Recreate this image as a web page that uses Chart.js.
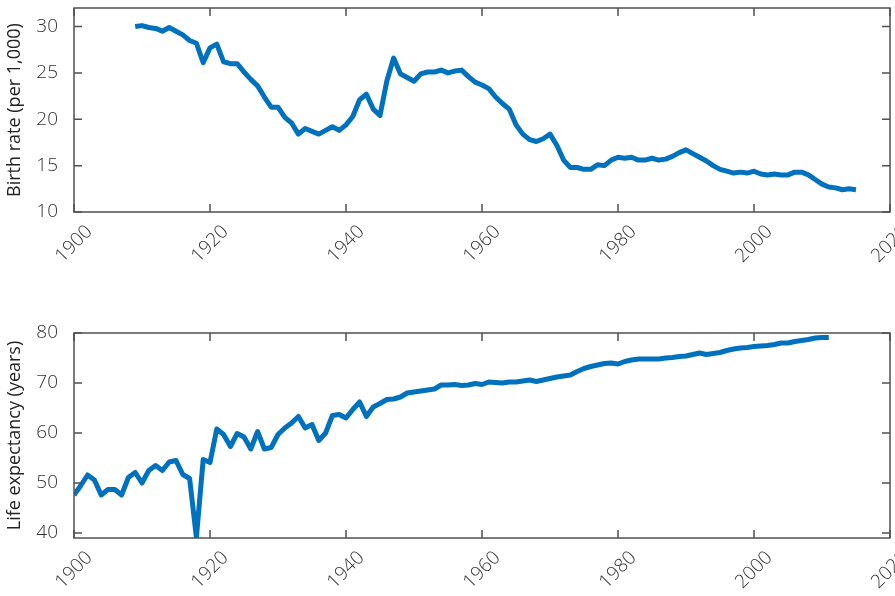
<!DOCTYPE html>
<html>
<head>
<meta charset="utf-8">
<script src="https://cdn.jsdelivr.net/npm/chart.js@4/dist/chart.umd.min.js"></script>
<style>
  body { margin: 0; background: #fff; }
  #wrap { position: relative; width: 895px; height: 596px; overflow: hidden; }
  canvas { position: absolute; left: 0; }
</style>
</head>
<body>
<div id="wrap">
  <canvas id="birthChart" width="895" height="300" style="top:0"></canvas>
  <canvas id="lifeChart" width="895" height="296" style="top:300px"></canvas>
</div>
<script>
/* data */
var birthYears = [
  1909, 1910, 1911, 1912, 1913, 1914, 1915, 1916, 1917, 1918,
  1919, 1920, 1921, 1922, 1923, 1924, 1925, 1926, 1927, 1928,
  1929, 1930, 1931, 1932, 1933, 1934, 1935, 1936, 1937, 1938,
  1939, 1940, 1941, 1942, 1943, 1944, 1945, 1946, 1947, 1948,
  1949, 1950, 1951, 1952, 1953, 1954, 1955, 1956, 1957, 1958,
  1959, 1960, 1961, 1962, 1963, 1964, 1965, 1966, 1967, 1968,
  1969, 1970, 1971, 1972, 1973, 1974, 1975, 1976, 1977, 1978,
  1979, 1980, 1981, 1982, 1983, 1984, 1985, 1986, 1987, 1988,
  1989, 1990, 1991, 1992, 1993, 1994, 1995, 1996, 1997, 1998,
  1999, 2000, 2001, 2002, 2003, 2004, 2005, 2006, 2007, 2008,
  2009, 2010, 2011, 2012, 2013, 2014, 2015
];
var birthRate = [
  30.0, 30.1, 29.9, 29.8, 29.5, 29.9, 29.5, 29.1, 28.5, 28.2,
  26.1, 27.7, 28.1, 26.2, 26.0, 26.0, 25.1, 24.3, 23.6, 22.4,
  21.3, 21.3, 20.2, 19.6, 18.4, 19.0, 18.7, 18.4, 18.8, 19.2,
  18.8, 19.4, 20.3, 22.1, 22.7, 21.1, 20.4, 24.1, 26.6, 24.9,
  24.5, 24.1, 24.9, 25.1, 25.1, 25.3, 25.0, 25.2, 25.3, 24.6,
  24.0, 23.7, 23.3, 22.4, 21.7, 21.1, 19.4, 18.4, 17.8, 17.6,
  17.9, 18.4, 17.2, 15.6, 14.8, 14.8, 14.6, 14.6, 15.1, 15.0,
  15.6, 15.9, 15.8, 15.9, 15.6, 15.6, 15.8, 15.6, 15.7, 16.0,
  16.4, 16.7, 16.3, 15.9, 15.5, 15.0, 14.6, 14.4, 14.2, 14.3,
  14.2, 14.4, 14.1, 14.0, 14.1, 14.0, 14.0, 14.3, 14.3, 14.0,
  13.5, 13.0, 12.7, 12.6, 12.4, 12.5, 12.4
];
var lifeYears = [
  1900, 1901, 1902, 1903, 1904, 1905, 1906, 1907, 1908, 1909,
  1910, 1911, 1912, 1913, 1914, 1915, 1916, 1917, 1918, 1919,
  1920, 1921, 1922, 1923, 1924, 1925, 1926, 1927, 1928, 1929,
  1930, 1931, 1932, 1933, 1934, 1935, 1936, 1937, 1938, 1939,
  1940, 1941, 1942, 1943, 1944, 1945, 1946, 1947, 1948, 1949,
  1950, 1951, 1952, 1953, 1954, 1955, 1956, 1957, 1958, 1959,
  1960, 1961, 1962, 1963, 1964, 1965, 1966, 1967, 1968, 1969,
  1970, 1971, 1972, 1973, 1974, 1975, 1976, 1977, 1978, 1979,
  1980, 1981, 1982, 1983, 1984, 1985, 1986, 1987, 1988, 1989,
  1990, 1991, 1992, 1993, 1994, 1995, 1996, 1997, 1998, 1999,
  2000, 2001, 2002, 2003, 2004, 2005, 2006, 2007, 2008, 2009,
  2010, 2011
];
var lifeExpectancy = [
  47.6, 49.5, 51.6, 50.6, 47.6, 48.7, 48.7, 47.6, 51.1, 52.1,
  50.0, 52.5, 53.5, 52.5, 54.2, 54.5, 51.7, 50.9, 39.1, 54.7,
  54.1, 60.8, 59.7, 57.3, 59.9, 59.2, 56.8, 60.3, 56.8, 57.1,
  59.7, 61.0, 62.0, 63.3, 61.0, 61.7, 58.5, 60.0, 63.5, 63.7,
  63.0, 64.7, 66.2, 63.3, 65.2, 65.9, 66.7, 66.8, 67.2, 68.0,
  68.2, 68.4, 68.6, 68.8, 69.6, 69.6, 69.7, 69.5, 69.6, 69.9,
  69.7, 70.2, 70.1, 70.0, 70.2, 70.2, 70.4, 70.6, 70.3, 70.6,
  70.9, 71.2, 71.4, 71.6, 72.3, 72.9, 73.3, 73.6, 73.9, 74.0,
  73.8, 74.3, 74.6, 74.8, 74.8, 74.8, 74.8, 75.0, 75.1, 75.3,
  75.4, 75.7, 76.0, 75.7, 75.9, 76.1, 76.5, 76.8, 77.0, 77.1,
  77.3, 77.4, 77.5, 77.7, 78.0, 78.0, 78.3, 78.5, 78.7, 79.0,
  79.1, 79.1
];
var yearTicks = [1900, 1920, 1940, 1960, 1980, 2000, 2020];
var birthTicks = [10, 15, 20, 25, 30];
var lifeTicks = [40, 50, 60, 70, 80];

var lineColor = '#0072bd';
var axisColor = '#505050';
var textColor = '#333333';
var fontFamily = "'Open Sans', 'Noto Sans', sans-serif";

function toPoints(xs, ys) {
  return xs.map((x, i) => ({x: x, y: ys[i]}));
}

/* box round the plot, ticks pointing inward, slanted year labels */
var boxPlugin = {
  id: 'box',
  afterDatasetsDraw: function(chart) {
    var ctx = chart.ctx;
    var a = chart.chartArea;
    var sx = chart.scales.x;
    var sy = chart.scales.y;
    var len = 8;
    ctx.save();
    ctx.strokeStyle = axisColor;
    ctx.lineWidth = 1.5;
    ctx.strokeRect(a.left, a.top, a.right - a.left, a.bottom - a.top);
    ctx.beginPath();
    sx.ticks.forEach((t) => {
      var px = sx.getPixelForValue(t.value);
      ctx.moveTo(px, a.bottom); ctx.lineTo(px, a.bottom - len);
      ctx.moveTo(px, a.top); ctx.lineTo(px, a.top + len);
    });
    sy.ticks.forEach((t) => {
      var py = sy.getPixelForValue(t.value);
      ctx.moveTo(a.left, py); ctx.lineTo(a.left + len, py);
      ctx.moveTo(a.right, py); ctx.lineTo(a.right - len, py);
    });
    ctx.stroke();
    ctx.fillStyle = textColor;
    ctx.font = '300 19px ' + fontFamily;
    ctx.textAlign = 'center';
    ctx.textBaseline = 'middle';
    sx.ticks.forEach((t) => {
      ctx.save();
      ctx.translate(sx.getPixelForValue(t.value), a.bottom + 32);
      ctx.rotate(-Math.PI / 4);
      ctx.fillText(String(t.value), 0, 0);
      ctx.restore();
    });
    ctx.restore();
  }
};

function makeChart(id, xs, ys, yMin, yMax, yTicks, title, padTop, xHeight) {
  return new Chart(document.getElementById(id).getContext('2d'), {
    type: 'line',
    data: {
      datasets: [{
        data: toPoints(xs, ys),
        borderColor: lineColor,
        borderWidth: 5,
        borderJoinStyle: 'round',
        pointRadius: 0,
        tension: 0,
        clip: 0
      }]
    },
    options: {
      responsive: false,
      animation: false,
      devicePixelRatio: 1,
      layout: { padding: { top: padTop, right: 5, left: 0, bottom: 0 } },
      plugins: { legend: { display: false }, tooltip: { enabled: false } },
      scales: {
        x: {
          type: 'linear',
          min: 1900,
          max: 2020,
          afterBuildTicks: (s) => { s.ticks = yearTicks.map((v) => ({value: v})); },
          afterFit: (s) => { s.height = xHeight; s.paddingLeft = 0; s.paddingRight = 0; },
          ticks: { display: false },
          grid: { display: false },
          border: { display: false }
        },
        y: {
          type: 'linear',
          min: yMin,
          max: yMax,
          afterBuildTicks: (s) => { s.ticks = yTicks.map((v) => ({value: v})); },
          afterFit: (s) => { s.width = 74; s.paddingTop = 0; s.paddingBottom = 0; },
          ticks: {
            color: textColor,
            padding: 8,
            font: { family: fontFamily, size: 19, weight: '300' }
          },
          grid: { display: false },
          border: { display: false },
          title: {
            display: true,
            text: title,
            color: '#222222',
            padding: { top: 4, bottom: 0 },
            font: { family: fontFamily, size: 18 }
          }
        }
      }
    },
    plugins: [boxPlugin]
  });
}

var birthChart = makeChart('birthChart', birthYears, birthRate, 10, 32, birthTicks,
  'Birth rate (per 1,000)', 8, 88);
var lifeChart = makeChart('lifeChart', lifeYears, lifeExpectancy, 39, 80, lifeTicks,
  'Life expectancy (years)', 33, 58);
</script>
</body>
</html>
